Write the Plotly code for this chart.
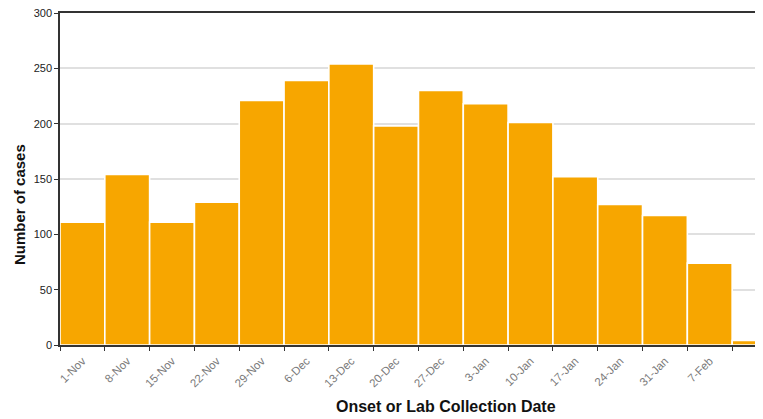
import plotly.graph_objects as go
import pandas as pd

week_start = ["2010-11-01", "2010-11-08", "2010-11-15", "2010-11-22", "2010-11-29",
              "2010-12-06", "2010-12-13", "2010-12-20", "2010-12-27", "2011-01-03",
              "2011-01-10", "2011-01-17", "2011-01-24", "2011-01-31", "2011-02-07",
              "2011-02-14"]
cases = [111, 154, 111, 129, 221, 239, 254, 198, 230, 218, 201, 152, 127, 117, 74, 4]
tick_labels = ["1-Nov", "8-Nov", "15-Nov", "22-Nov", "29-Nov", "6-Dec", "13-Dec", "20-Dec",
               "27-Dec", "3-Jan", "10-Jan", "17-Jan", "24-Jan", "31-Jan", "7-Feb"]
y_ticks = [0, 50, 100, 150, 200, 250, 300]

week_ms = 7 * 24 * 3600 * 1000
W, H = 747, 411
ML, MR, MT, MB = 52, 0, 5, 74
px_per_week = 44.81
start = pd.Timestamp(week_start[0])
end = start + pd.Timedelta(days=7 * (W - ML - MR) / px_per_week)
# labels sit at the middle of each weekly bar, ticks at the week boundaries
label_pos = [pd.Timestamp(d) + pd.Timedelta(hours=84) for d in week_start[:len(tick_labels)]]

fig = go.Figure(go.Bar(
    x=week_start, y=cases, offset=0, width=[week_ms] * len(cases),
    marker=dict(color="#F7A600", line=dict(color="white", width=1.6)),
))

fig.update_layout(
    width=W, height=H,
    margin=dict(l=ML, r=MR, t=MT, b=MB),
    plot_bgcolor="white", paper_bgcolor="white",
    font=dict(family="Liberation Sans, Arial, sans-serif", size=11, color="#222"),
    showlegend=False,
    xaxis=dict(
        type="date", range=[start, end], automargin=False,
        tickvals=label_pos, ticktext=tick_labels,
        tickangle=-45, tickfont=dict(size=11.5, color="#7a7a7a"),
        ticks="", ticklen=4, ticklabeloverflow="allow", ticklabelstandoff=3,
        minor=dict(ticks="outside", ticklen=4, tickcolor="#333", tickwidth=1.2,
                   tick0=week_start[0], dtick=week_ms, showgrid=False),
        showline=True, linecolor="#333", linewidth=1.5, mirror=True,
        showgrid=False,
    ),
    yaxis=dict(
        range=[0, 300], tickvals=y_ticks, automargin=False,
        ticks="outside", ticklen=4, tickcolor="#333", tickwidth=1.2,
        tickfont=dict(size=11, color="#222"), ticklabeloverflow="allow",
        showline=True, linecolor="#333", linewidth=1.5,
        showgrid=True, gridcolor="#e0e0e0", gridwidth=1.5, zeroline=False,
    ),
    annotations=[
        dict(text="<b>Number of cases</b>", textangle=-90,
             xref="paper", yref="y", x=0, y=126.7, xanchor="center", yanchor="middle",
             xshift=-40.7, showarrow=False, font=dict(size=15, color="#111")),
        dict(text="<b>Onset or Lab Collection Date</b>",
             xref="x", yref="paper", x=start + pd.Timedelta(days=7 * (446.5 - 60.3) / px_per_week),
             y=0, xanchor="center", yanchor="middle",
             yshift=-61.7, showarrow=False, font=dict(size=16, color="#111")),
    ],
)

fig.write_html("out.html")
